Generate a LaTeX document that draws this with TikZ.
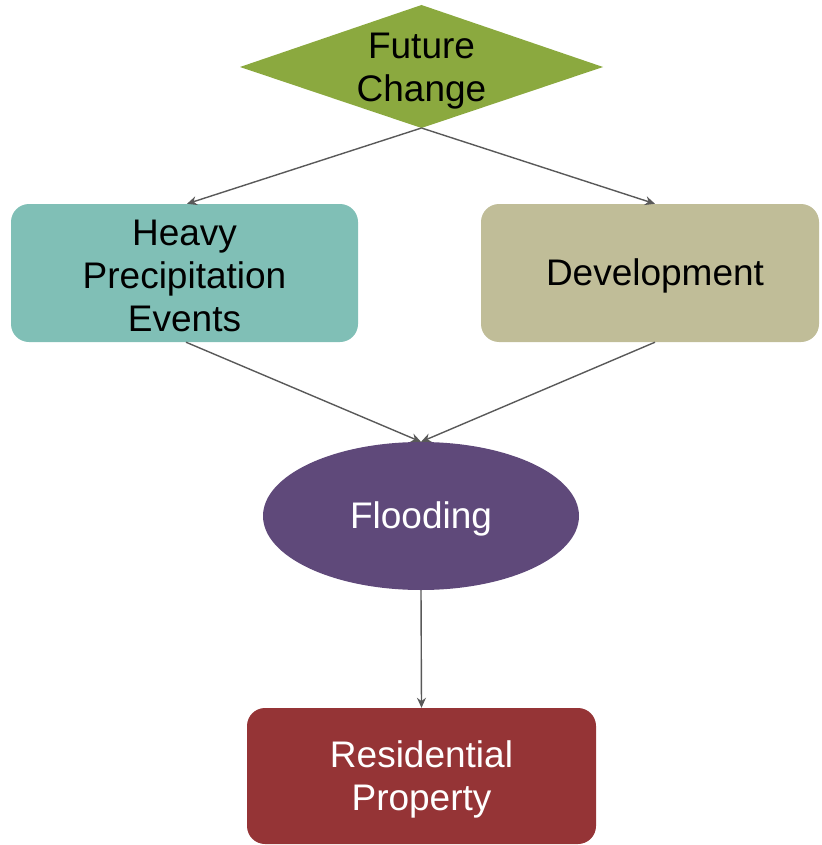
\documentclass[tikz,border=0pt]{standalone}
\usepackage{fontspec}
\setmainfont{Liberation Sans}
\usetikzlibrary{arrows.meta,shapes.geometric}
\definecolor{cgreen}{RGB}{139,169,63}
\definecolor{cteal}{RGB}{128,191,182}
\definecolor{ckhaki}{RGB}{192,189,152}
\definecolor{cpurple}{RGB}{95,73,122}
\definecolor{cred}{RGB}{149,52,54}
\definecolor{cline}{RGB}{89,89,89}
\tikzset{
  lbl/.style={font=\fontsize{37}{43}\selectfont, align=center, inner sep=0pt},
  txt/.style={label={[lbl,yshift=-3pt,#1]center:}},
  rbox/.style={rounded corners=18pt, minimum width=#1, minimum height=138pt, inner sep=0pt},
  conn/.style={draw=cline, line width=1.4pt, -{Stealth[length=10pt,width=9pt]}}
}
\begin{document}
\begin{tikzpicture}[x=1pt,y=-1pt]
\useasboundingbox (0,0) rectangle (821,845);
% diamond
\coordinate (dn) at (421.5,5);
\coordinate (de) at (603,67);
\coordinate (ds) at (421.5,128);
\coordinate (dw) at (240,67);
\fill[cgreen] (dn) -- (de) -- (ds) -- (dw) -- cycle;
\node[lbl, text=black] (fc) at (421.5,71) {Future\\Change};
% boxes
\node[rbox=347pt, fill=cteal] (heavy) at (184.5,273) {};
\node[lbl, text=black] (heavyt) at (184.5,276) {Heavy\\Precipitation\\Events};
\node[rbox=338pt, fill=ckhaki] (dev) at (650,273) {};
\node[lbl, text=black] (devt) at (655,276) {Development};
\node[ellipse, fill=cpurple, minimum width=316pt, minimum height=148pt, inner sep=0pt] (flood) at (421,516) {};
\node[lbl, text=white] (floodt) at (421,519) {Flooding};
\node[rbox=349pt, fill=cred, minimum height=136pt] (res) at (421.5,776) {};
\node[lbl, text=white] (rest) at (421.5,779) {Residential\\Property};
% connectors
\draw[conn] (ds) -- ([xshift=2.5pt]heavy.north);
\draw[conn] (ds) -- ([xshift=5pt]dev.north);
\draw[conn] ([xshift=1.5pt]heavy.south) -- (flood.north);
\draw[conn] ([xshift=5pt]dev.south) -- (flood.north);
\draw[conn] (flood.south) -- (res.north);
\end{tikzpicture}
\end{document}
